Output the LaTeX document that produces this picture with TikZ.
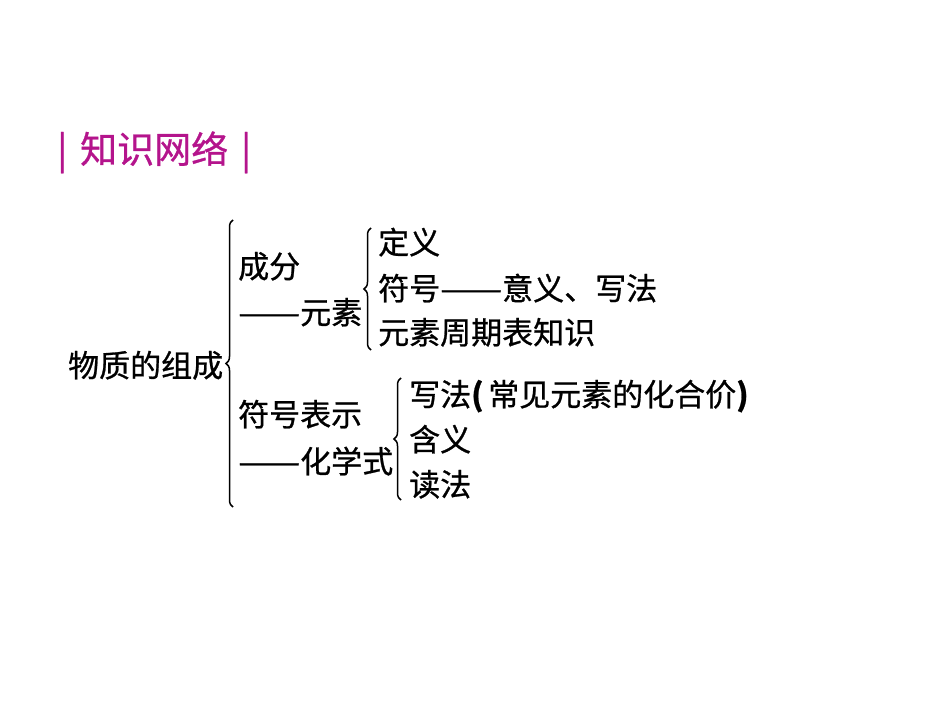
\documentclass[tikz,border=0pt]{standalone}
\usepackage{graphicx}
\usepackage{fontspec}
\setmainfont{Noto Sans CJK SC}[FakeBold=0.8]
\usetikzlibrary{decorations.pathreplacing}
\definecolor{titlemagenta}{RGB}{180,20,140}
\newcommand{\longdash}{\resizebox{2em}{\height}{——}}
\newcommand{\lparen}{\makebox[0.55em][l]{\bfseries(}}
\newcommand{\rparen}{\makebox[0.5em][l]{\bfseries)}}
\tikzset{
  item/.style={anchor=base west,inner sep=0pt,font=\fontsize{31}{34}\selectfont},
  bigbrace/.style={decorate,decoration={brace,amplitude=7pt,aspect=0.5},line width=1.5pt},
}

\begin{document}
\begin{tikzpicture}[x=1pt,y=1pt]
\useasboundingbox (0,0) rectangle (950,713);
% title
\node[anchor=base west,inner sep=0pt,text=titlemagenta,font=\fontsize{37}{40}\selectfont] (title) at (57,550) {|\hspace{13pt}知识网络\hspace{13pt}|};
% root
\node[item] (root) at (68,336) {物质的组成};
\draw[bigbrace] (233,206) -- (233,493);
% first branch
\node[item] (comp) at (238,435) {成分};
\node[item] (elem) at (238,389) {\longdash 元素};
\draw[bigbrace] (371,363) -- (371,485);
\node[item] (def) at (378,459) {定义};
\node[item] (sym) at (378,413) {符号\longdash 意义、写法};
\node[item] (table) at (378,369) {元素周期表知识};
% second branch
\node[item] (repr) at (238,287) {符号表示};
\node[item] (form) at (238,240) {\longdash 化学式};
\draw[bigbrace] (401,213) -- (401,335);
\node[item] (write) at (409,307) {写法\lparen 常见元素的化合价\rparen};
\node[item] (mean) at (409,262) {含义};
\node[item] (read) at (409,217) {读法};
\end{tikzpicture}
\end{document}
